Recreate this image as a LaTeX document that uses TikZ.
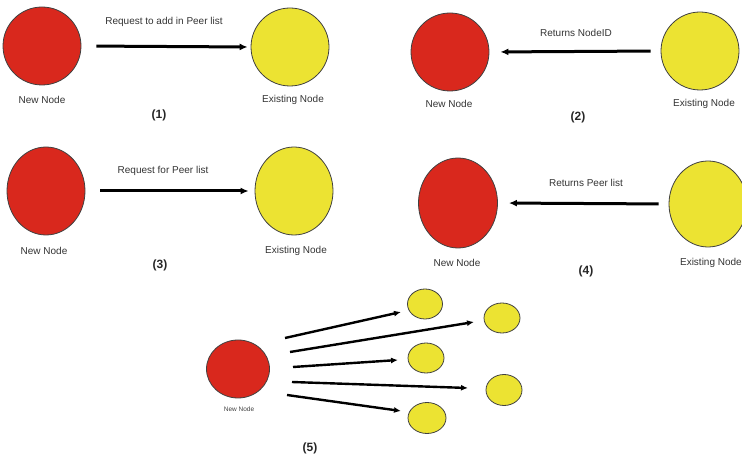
\documentclass[tikz,border=0pt]{standalone}
\usepackage{fontspec}
\setmainfont{Liberation Sans}
\usetikzlibrary{shapes.geometric,arrows.meta}
\definecolor{nodered}{HTML}{D9281D}
\definecolor{nodeyellow}{HTML}{ECE332}
\begin{document}
\begin{tikzpicture}[x=1pt,y=-1pt,
  peer/.style={ellipse,draw=black!75,line width=0.8pt,inner sep=0pt},
  newpeer/.style={peer,fill=nodered},
  oldpeer/.style={peer,fill=nodeyellow},
  caption/.style={font=\fontsize{10}{12}\selectfont,text=black!80,inner sep=0pt},
  stepno/.style={font=\fontsize{12}{14}\selectfont\bfseries,text=black!85,inner sep=0pt},
  msg/.style={line width=3pt,-{Latex[length=8pt,width=7pt]}},
  fan/.style={line width=2.4pt,-{Latex[length=7pt,width=6pt]}}]
\useasboundingbox (0,0) rectangle (742,462);
\clip (0,0) rectangle (742,462);

% (1) request to join
\node[newpeer,minimum width=78pt,minimum height=78pt] (n1) at (42,46) {};
\node[oldpeer,minimum width=78pt,minimum height=78pt] (e1) at (290,47) {};
\node[caption] (n1l) at (42,100) {New Node};
\node[caption] (e1l) at (293,100) {Existing Node};
\node[caption] (m1) at (164,22) {Request to add in Peer list};
\node[stepno] (s1) at (159,115) {(1)};
\draw[msg,shorten <=15pt,shorten >=3pt] (n1.east) -- (e1.west);

% (2) node id returned
\node[newpeer,minimum width=78pt,minimum height=78pt] (n2) at (450,52) {};
\node[oldpeer,minimum width=78pt,minimum height=78pt] (e2) at (700,51) {};
\node[caption] (n2l) at (449,104) {New Node};
\node[caption] (e2l) at (704,104) {Existing Node};
\node[caption] (m2) at (576,33) {Returns NodeID};
\node[stepno] (s2) at (578,117) {(2)};
\draw[msg,shorten <=10pt,shorten >=11pt] (e2.west) -- (n2.east);

% (3) peer list requested
\node[newpeer,minimum width=78pt,minimum height=88pt] (n3) at (46,191) {};
\node[oldpeer,minimum width=78pt,minimum height=88pt] (e3) at (294,191) {};
\node[caption] (n3l) at (44,251) {New Node};
\node[caption] (e3l) at (296,251) {Existing Node};
\node[caption] (m3) at (163,171) {Request for Peer list};
\node[stepno] (s3) at (160,265) {(3)};
\draw[msg,shorten <=15pt,shorten >=6pt] (n3.east) -- (e3.west);

% (4) peer list returned
\node[newpeer,minimum width=79pt,minimum height=90pt] (n4) at (458,203) {};
\node[oldpeer,minimum width=78pt,minimum height=86pt] (e4) at (708,204) {};
\node[caption] (n4l) at (457,263) {New Node};
\node[caption,anchor=east] (e4l) at (742,263) {Existing Node};
\node[caption] (m4) at (586,183) {Returns Peer list};
\node[stepno] (s4) at (586,271) {(4)};
\draw[msg,shorten <=10pt,shorten >=11pt] (e4.west) -- (n4.east);

% (5) new node contacts the peers
\node[newpeer,minimum width=63pt,minimum height=58pt] (n5) at (238,369) {};
\node[font=\fontsize{6.5}{8}\selectfont,text=black!75,inner sep=0pt] (n5l) at (239,409) {New Node};
\node[oldpeer,minimum width=35pt,minimum height=30pt] (p1) at (425,304) {};
\node[oldpeer,minimum width=36pt,minimum height=30pt] (p2) at (502,318) {};
\node[oldpeer,minimum width=36pt,minimum height=30pt] (p3) at (426,358) {};
\node[oldpeer,minimum width=36pt,minimum height=31pt] (p4) at (504,390) {};
\node[oldpeer,minimum width=38pt,minimum height=31pt] (p5) at (427,418) {};
\node[stepno] (s5) at (310,448) {(5)};
\coordinate (f1a) at (285,338); \coordinate (f1b) at (401,312);
\coordinate (f2a) at (290,352); \coordinate (f2b) at (474,322);
\coordinate (f3a) at (293,367); \coordinate (f3b) at (398,360);
\coordinate (f4a) at (292,382); \coordinate (f4b) at (468,388);
\coordinate (f5a) at (287,395); \coordinate (f5b) at (401,411);
\draw[fan] (f1a) -- (f1b);
\draw[fan] (f2a) -- (f2b);
\draw[fan] (f3a) -- (f3b);
\draw[fan] (f4a) -- (f4b);
\draw[fan] (f5a) -- (f5b);
\end{tikzpicture}
\end{document}
